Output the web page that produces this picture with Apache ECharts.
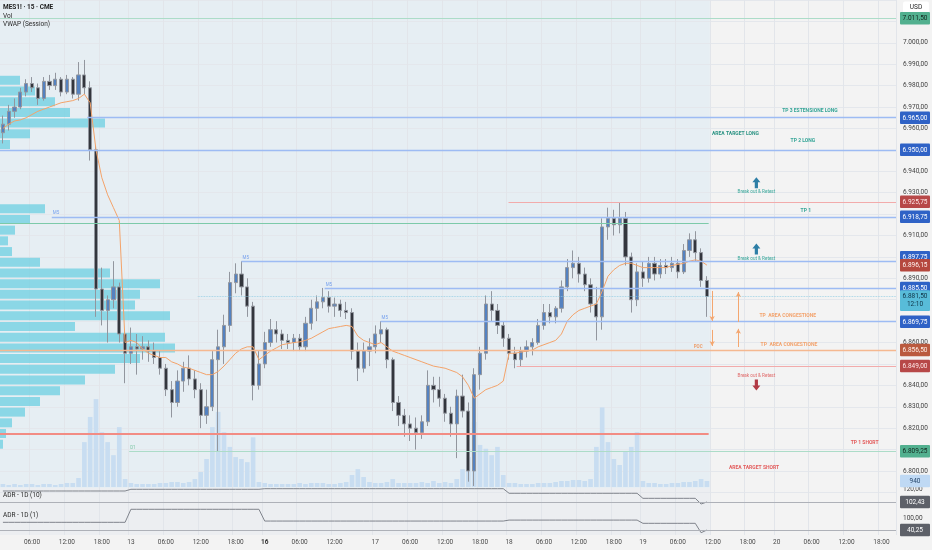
<!DOCTYPE html>
<html><head><meta charset="utf-8">
<script src="https://cdn.jsdelivr.net/npm/echarts@6/dist/echarts.min.js"></script>
<style>html,body{margin:0;padding:0;background:#f3f3f3}#c{width:932px;height:550px}</style>
</head><body><div id="c"></div>
<script>
// ---------- axis structure (Rome time, hourly bars, CME session) ----------
const sessions = [
  ['2026-03-12', 1, 21], ['2026-03-12', 23, 23], ['2026-03-13', 0, 21],
  ['2026-03-15', 23, 23], ['2026-03-16', 0, 15], ['2026-03-16', 20, 21],
  ['2026-03-16', 23, 23], ['2026-03-17', 0, 21], ['2026-03-17', 23, 23], ['2026-03-18', 0, 21],
  ['2026-03-18', 23, 23], ['2026-03-19', 0, 21], ['2026-03-19', 23, 23], ['2026-03-20', 0, 20]
];
const axisHours = ['00:00', '06:00', '12:00', '18:00'];
const boldDays = ['16'];
const categories = [];
sessions.forEach(([d, h0, h1]) => { for (let h = h0; h <= h1; h++) categories.push(d + ' ' + String(h).padStart(2, '0') + ':00'); });

// ---------- MES1! hourly OHLC ----------
const priceOpen = [
 6958,6962,6968,6970,6977,6981,6979,6974,6982,6980,
 6983,6977,6983,6976,6985,6979,6950,6885,6875,6880,
 6886,6864,6855,6858,6857,6858,6856,6853,6848,6838,
 6832,6842,6848,6843,6838,6826,6830,6852,6858,6868,
 6888,6892,6886,6877,6840,6850,6860,6866,6864,6861,
 6860,6862,6858,6869,6876,6879,6881,6877,6878,6875,
 6874,6856,6848,6856,6858,6864,6866,6852,6832,6826,
 6822,6820,6818,6823,6840,6838,6834,6827,6822,6835,
 6828,6800,6845,6855,6878,6875,6868,6862,6855,6852,
 6856,6858,6860,6868,6874,6872,6876,6886,6895,6897,
 6892,6887,6878,6872,6914,6918,6915,6918,6900,6880,
 6893,6890,6897,6892,6896,6895,6897,6893,6903,6908,
 6902,6889];
const priceHigh = [
 6966,6971,6974,6979,6983,6984,6981,6984,6985,6986,
 6984,6985,6984,6991,6992,6982,6952,6895,6882,6898,
 6888,6866,6867,6864,6863,6861,6860,6856,6850,6842,
 6847,6851,6854,6847,6841,6838,6856,6866,6873,6893,
 6897,6898,6890,6879,6856,6865,6871,6870,6866,6864,
 6864,6864,6872,6880,6882,6885.5,6884,6881,6880,6879,
 6876,6860,6860,6862,6868,6870,6867,6853,6835,6829,
 6826,6825,6826,6847,6844,6844,6836,6830,6838,6845,
 6832,6848,6858,6882,6884,6878,6870,6864,6858,6858,
 6861,6862,6871,6878,6878,6877,6889,6899,6903,6900,
 6895,6890,6886,6918,6923,6922,6925.5,6921,6902,6897,
 6898,6900,6900,6899,6899,6900,6899,6906,6911,6912,
 6904,6891];
const priceLow = [
 6953,6959,6965,6969,6975,6977,6971,6973,6978,6978,
 6975,6976,6974,6973,6976,6945,6872,6868,6860,6876,
 6860,6841,6850,6845,6852,6851,6850,6845,6835,6825,
 6830,6837,6840,6834,6820,6822,6828,6809,6850,6865,
 6883,6882,6872,6833,6838,6848,6858,6860,6857,6857,
 6856,6856,6856,6866,6870,6876,6874,6872,6872,6871,
 6852,6842,6846,6849,6855,6860,6848,6828,6821,6816,
 6814,6810,6815,6821,6832,6830,6823,6816,6806,6825,
 6795,6793,6838,6852,6870,6864,6858,6852,6848,6849,
 6853,6854,6859,6866,6869,6869,6874,6884,6890,6888,
 6884,6874,6861,6866,6908,6910,6911,6896,6874,6877,
 6886,6888,6889,6890,6892,6893,6890,6892,6900,6898,
 6886,6872];
const priceClose = [
 6962,6968,6970,6977,6981,6979,6974,6982,6980,6983,
 6977,6983,6976,6985,6979,6950,6885,6875,6880,6886,
 6864,6855,6858,6857,6858,6856,6853,6848,6838,6832,
 6842,6848,6843,6838,6826,6830,6852,6858,6868,6888,
 6892,6886,6877,6840,6850,6860,6866,6864,6861,6860,
 6862,6858,6869,6876,6879,6881,6877,6878,6875,6874,
 6856,6848,6856,6858,6864,6866,6852,6832,6826,6822,
 6820,6818,6823,6840,6838,6834,6827,6822,6835,6828,
 6800,6845,6855,6878,6875,6868,6862,6855,6852,6856,
 6858,6860,6868,6874,6872,6876,6886,6895,6897,6892,
 6887,6878,6872,6914,6918,6915,6918,6900,6880,6893,
 6890,6897,6892,6896,6895,6897,6893,6903,6908,6902,
 6889,6881.5];
const countdown = '12:10';

// ---------- VWAP (Session) ----------
const vwap = [
 6960,6962,6963.5,6964,6965,6966.5,6968,6969,6970,6971,6972,6972.5,6973,6974,6976,6972,6950,6937,6929,6923,6917,
 6860,6861,6860,6857,6855,6854,6853,6853,6851,6850,6848.5,6848,6847,6846,6845,6845,6846.5,6849,6852,6855,6857,6858,6858,
 6852,6854,6856,6857.5,6859,6859.5,6860,6860.3,6861,6862,6863.5,6865,6866.5,6867,6867.5,6868,6867.5,6863,6861,
 6860,6859,6860,6858,6856,6855,6854,6853,6852,6851,6850,6849,6848.5,6848,6847,6846,6844,6840,6834,6836,6838,6839,6840,
 6842,6855,6855,6855.5,6856,6856.5,6858,6859,6860,6861,6864,6870,6873,6875,6876,6877,6878,6884,6891,6894,6896,6897,6897,
 6896,6895,6895,6895,6895,6895,6896,6896.5,6897,6898,6898.6,6898,6896.15];

// ---------- Volume ----------
const volume = [
 470,310,470,310,470,470,310,470,470,310,470,630,630,
 1410,7050,11000,13800,8600,7050,5000,9400,1250,
 630,470,470,470,470,630,630,780,780,630,780,1250,
 2350,4400,9400,11800,8600,6300,4700,4400,3900,7800,
 780,
 630,470,470,470,470,470,630,470,630,630,630,470,470,630,780,
 1880,2800,1570,780,
 630,630,780,1250,630,630,630,630,780,630,940,630,780,630,
 1250,2800,4700,10200,6600,6000,5000,6300,1880,
 630,630,470,470,470,630,630,630,780,
 940,940,1100,1100,940,1250,
 6300,12500,7050,4400,3450,5500,6300,8600,
 940,
 630,630,470,470,630,630,780,780,940,
 1250,940];

// ---------- Volume profile (5-point price rows) ----------
const profileRows = [];
for (let p = 6790; p < 7020; p += 5) profileRows.push(String(p));
const profileVolume = [
 0,0,0,0,3, 6,12,25,40,60, 85,115,140,175,165, 75,170,135,140,160,
 110,40,12,8,15, 30,45,0,0,0, 0,0,10,30,105, 70,55,35,20,0,
 0,0,0,0,0,0];

// ---------- ADR indicators (daily values, first bar of each day) ----------
const adrDayStartBar = [0, 22, 45, 87, 110, 120, 121];
const adr10Daily = [117.3, 119.6, 120.4, 114.2, 107.4, 99.7, 102.43];
const adr1Daily = [79.6, 146, 86, 91, 74.5, 26.5, 40.25];

// ---------- drawn levels (price, first bar, last bar) ----------
const levels = [
  {price: 7011.50, from: 0, kind: 'green', tag: 'green'},
  {price: 6965.00, from: 15, kind: 'blue', tag: 'blue'},
  {price: 6950.00, from: 0, kind: 'blue', tag: 'blue'},
  {price: 6925.75, from: 87.4, kind: 'red', tag: 'red'},
  {price: 6918.75, from: 8.9, kind: 'blue', tag: 'blue', mark: 'M5'},
  {price: 6915.50, from: 0, to: 121.8, kind: 'green2'},
  {price: 6897.75, from: 41.5, kind: 'blue', tag: 'blue', mark: 'M5', shift: 'up'},
  {price: 6885.50, from: 55.8, kind: 'blue', tag: 'blue', mark: 'M5'},
  {price: 6881.50, from: 34, kind: 'last'},
  {price: 6869.75, from: 65.4, kind: 'blue', tag: 'blue', mark: 'M5'},
  {price: 6856.50, from: 0, kind: 'poc', tag: 'poc'},
  {price: 6849.00, from: 88.8, kind: 'red', tag: 'red'},
  {price: 6817.50, from: 0, to: 121.8, kind: 'redStrong'},
  {price: 6809.25, from: 22.2, kind: 'green', tag: 'green', mark: 'D1'}
];
const annotations = [
  {text: 'TP 3 ESTENSIONE LONG', at: 139.2, price: 6968.2, kind: 'long'},
  {text: 'AREA TARGET LONG', at: 126.4, price: 6957.5, kind: 'longDark'},
  {text: 'TP 2 LONG', at: 138, price: 6954.2, kind: 'long'},
  {text: 'Break out & Retest', at: 130, price: 6930.6, kind: 'longNote'},
  {text: 'TP 1', at: 138.5, price: 6921.5, kind: 'long'},
  {text: 'Break out & Retest', at: 130, price: 6899.3, kind: 'longNote'},
  {text: 'TP  AREA CONGESTIONE', at: 135.4, price: 6872.4, kind: 'range'},
  {text: 'TP  AREA CONGESTIONE', at: 135.6, price: 6859.1, kind: 'range'},
  {text: 'POC', at: 120, price: 6858.2, kind: 'poc'},
  {text: 'Break out & Retest', at: 130, price: 6844.6, kind: 'shortNote'},
  {text: 'TP 1 SHORT', at: 148.6, price: 6813, kind: 'short'},
  {text: 'AREA TARGET SHORT', at: 129.6, price: 6801.4, kind: 'short'}
];
const blockArrows = [
  {at: 130, price: 6934.6, dir: 'up'},
  {at: 130, price: 6903.7, dir: 'up'},
  {at: 130, price: 6840.2, dir: 'down'}
];
const lineArrows = [
  {at: 122.4, from: 6884.1, to: 6870.1},
  {at: 126.9, from: 6869.6, to: 6883.6},
  {at: 122.4, from: 6865.9, to: 6858.4},
  {at: 126.9, from: 6857.9, to: 6866.4}
];

// ---------- styles ----------
const FONT = 'Roboto';
const lineStyles = {
  green: {color: '#acdcc8', width: 1.2, type: 'solid'},
  blue: {color: '#9dbbf3', width: 1.3, type: 'solid'},
  red: {color: '#f2abab', width: 1, type: 'solid'},
  green2: {color: '#7ccaa9', width: 1.2, type: 'solid'},
  last: {color: '#8fcbe2', width: 0.8, type: 'dotted'},
  poc: {color: '#f5b890', width: 1.3, type: 'solid'},
  redStrong: {color: '#f28c84', width: 2, type: 'solid'}
};
const tagStyles = {
  green: {bg: '#52b08f', fg: '#13261e'},
  blue: {bg: '#2f62c6', fg: '#ffffff'},
  red: {bg: '#b74848', fg: '#ffe8e8'},
  poc: {bg: '#ba5a3e', fg: '#fff0e8'},
  vwap: {bg: '#b5483e', fg: '#fff4f0'},
  last: {bg: '#58bcd9', fg: '#0f3346'}
};
const textStyles = {
  long: {color: '#35a597', fontSize: 5, fontWeight: 'bold'},
  longDark: {color: '#2b9383', fontSize: 5, fontWeight: 'bold'},
  longNote: {color: '#3aa89b', fontSize: 4.6, fontWeight: 'normal'},
  range: {color: '#f3a36d', fontSize: 5, fontWeight: 'bold'},
  poc: {color: '#ee9f6d', fontSize: 4.5, fontWeight: 'bold'},
  shortNote: {color: '#e06969', fontSize: 4.6, fontWeight: 'normal'},
  short: {color: '#e35d5d', fontSize: 5, fontWeight: 'bold'}
};
const arrowPaths = {
  up: 'path://M5 0 L10 5 L7 5 L7 11 L3 11 L3 5 L0 5 Z',
  down: 'path://M3 0 L7 0 L7 6 L10 6 L5 11 L0 6 L3 6 Z'
};
const arrowColors = {up: '#2d7ea6', down: '#b23a45'};

// ---------- helpers ----------
const fmt = v => {
  const s = Math.abs(v).toFixed(2).split('.');
  return (v < 0 ? '-' : '') + s[0].replace(/\B(?=(\d{3})+(?!\d))/g, '.') + ',' + s[1];
};
const candles = priceOpen.map((o, i) => [o, priceClose[i], priceLow[i], priceHigh[i]]);
const dailyToBars = (vals) => priceClose.map((_, i) => {
  let k = 0;
  for (let j = 0; j < adrDayStartBar.length; j++) if (i >= adrDayStartBar[j]) k = j;
  return vals[k];
});
const adr10 = dailyToBars(adr10Daily);
const adr1 = dailyToBars(adr1Daily);
const nBars = categories.length;
const lastClose = priceClose[priceClose.length - 1];
const lastVwap = vwap[vwap.length - 1];
const lastVol = volume[volume.length - 1];

const showHour = (i, v) => axisHours.indexOf(v.split(' ')[1]) >= 0;
const xLabel = v => {
  const [d, t] = v.split(' ');
  if (t === '00:00') { const day = String(+d.slice(8)); return boldDays.indexOf(day) >= 0 ? '{b|' + day + '}' : day; }
  return t;
};

const HIDDEN_LINE = {color: 'rgba(0,0,0,0)', width: 1, type: 'solid', opacity: 1};
function tagItem(price, text, st, shift, extraLine, lineStyle) {
  const seg = {backgroundColor: st.bg, color: st.fg, padding: [2, 2, 1.5, 2], borderRadius: 1,
               fontSize: 6.5, fontFamily: FONT, width: 26, align: 'center', lineHeight: 9, height: 9};
  let formatter, rich;
  if (extraLine) {
    formatter = '{e| }\n{a|' + text + '}\n{b|' + extraLine + '}';
    rich = {a: seg, b: Object.assign({}, seg, {padding: [0, 2, 2, 2]}), e: {lineHeight: 9, height: 9, fontSize: 6.5}};
  } else if (shift === 'up') {
    formatter = '{a|' + text + '}\n{e| }';
    rich = {a: seg, e: {lineHeight: 9, height: 9, fontSize: 6.5}};
  } else {
    formatter = '{a|' + text + '}';
    rich = {a: seg};
  }
  return {yAxis: price, lineStyle: lineStyle || HIDDEN_LINE,
          label: {show: true, position: 'end', distance: 4, opacity: 1, formatter: formatter, rich: rich}};
}

const levelLines = [];
levels.forEach(l => {
  levelLines.push([
    {coord: [l.from, l.price], lineStyle: lineStyles[l.kind],
     label: l.mark ? {show: true, position: 'insideStartTop', formatter: l.mark, distance: 1,
       color: l.kind === 'green' ? '#7cc6a4' : '#78a2ee', fontSize: 4.5, fontFamily: FONT} : {show: false}},
    {coord: [l.to != null ? l.to : nBars, l.price]}
  ]);
  if (l.tag) levelLines.push(tagItem(l.price, fmt(l.price), tagStyles[l.tag], l.shift));
});
levelLines.push(tagItem(lastVwap, fmt(lastVwap), tagStyles.vwap));
levelLines.push(tagItem(lastClose, fmt(lastClose), tagStyles.last, null, countdown));
lineArrows.forEach(a => {
  levelLines.push([
    {coord: [a.at, a.from], symbol: 'none', lineStyle: {color: '#f4a66f', width: 1, type: 'solid'}, label: {show: false}},
    {coord: [a.at, a.to], symbol: 'arrow', symbolSize: [4, 5]}
  ]);
});

const markPoints = annotations.map(a => ({
  name: a.text, coord: [a.at, a.price], symbol: 'rect', symbolSize: 1,
  itemStyle: {color: 'rgba(0,0,0,0)'},
  label: Object.assign({show: true, position: 'inside', formatter: '{b}', fontFamily: FONT}, textStyles[a.kind])
})).concat(blockArrows.map(b => ({
  name: '', coord: [b.at, b.price], symbol: arrowPaths[b.dir], symbolSize: [8, 11],
  itemStyle: {color: arrowColors[b.dir]}, label: {show: false}
})));

const gridBase = {left: 0, right: 36, outerBoundsMode: 'none', containLabel: false};
const splitX = {show: true, interval: showHour, lineStyle: {color: '#e2e5ea', width: 1}};
const catAxis = (grid, extra) => Object.assign({
  type: 'category', gridIndex: grid, data: categories, boundaryGap: true,
  axisLine: {show: false}, axisTick: {show: false}, axisLabel: {show: false}, splitLine: {show: false}, z: 2
}, extra || {});
const helperX = (grid) => ({type: 'value', gridIndex: grid, min: 0, max: nBars, show: false, position: 'top'});

const chart = echarts.init(document.getElementById('c'), null, {renderer: 'canvas'});
chart.setOption({
  animation: false,
  backgroundColor: '#f3f3f3',
  textStyle: {fontFamily: FONT},
  grid: [
    Object.assign({top: 0, height: 492.4}, gridBase),
    Object.assign({top: 370, height: 117}, gridBase),
    {left: 0, top: 0, height: 492.4, width: 300, outerBoundsMode: 'none', containLabel: false},
    Object.assign({top: 488, height: 20}, gridBase),
    Object.assign({top: 508, height: 27}, gridBase)
  ],
  xAxis: [
    catAxis(0, {splitLine: splitX}),
    helperX(0),
    catAxis(1),
    {type: 'value', gridIndex: 2, min: 0, max: 300, show: false},
    catAxis(3, {splitLine: splitX}),
    helperX(3),
    catAxis(4, {splitLine: splitX, axisLabel: {show: true, interval: showHour, formatter: xLabel, margin: 4,
      fontSize: 6.5, color: '#4a4a4a', fontFamily: FONT, hideOverlap: false, rich: {b: {fontWeight: 'bold', fontSize: 6.5, color: '#333'}}}}),
    helperX(4)
  ],
  yAxis: [
    {type: 'value', gridIndex: 0, position: 'right', min: 6790, max: 7020, interval: 10, z: 2,
     axisLine: {show: false}, axisTick: {show: false},
     splitLine: {show: true, lineStyle: {color: '#e4e7ec', width: 1}},
     axisLabel: {formatter: fmt, fontSize: 6.5, color: '#3f3f3f', margin: 7, fontFamily: FONT, showMinLabel: false, showMaxLabel: false}},
    {type: 'value', gridIndex: 1, min: 0, max: 18370, show: false},
    {type: 'category', gridIndex: 2, data: profileRows, show: false, boundaryGap: true},
    {type: 'value', gridIndex: 3, position: 'right', min: 94.3, max: 121.35, z: 2,
     axisLine: {show: false}, axisTick: {show: false}, splitLine: {show: false},
     axisLabel: {customValues: [120], formatter: fmt, fontSize: 6.5, color: '#3f3f3f', margin: 7, fontFamily: FONT}},
    {type: 'value', gridIndex: 4, position: 'right', min: 14.9, max: 152.6, z: 2,
     axisLine: {show: false}, axisTick: {show: false}, splitLine: {show: false},
     axisLabel: {customValues: [100], formatter: fmt, fontSize: 6.5, color: '#3f3f3f', margin: 7, fontFamily: FONT}}
  ],
  graphic: [
    {type: 'text', left: 3, top: 4, z: 20, style: {text: 'MES1! · 15 · CME', font: 'bold 6.5px Roboto', fill: '#1e1e1e'}},
    {type: 'text', left: 3, top: 12.5, z: 20, style: {text: 'Vol', font: '6.5px Roboto', fill: '#2a2a2a'}},
    {type: 'text', left: 3, top: 21, z: 20, style: {text: 'VWAP (Session)', font: '6.5px Roboto', fill: '#2a2a2a'}},
    {type: 'text', left: 3, top: 492, z: 20, style: {text: 'ADR - 1D (10)', font: '6.5px Roboto', fill: '#2a2a2a'}},
    {type: 'text', left: 3, top: 511.5, z: 20, style: {text: 'ADR - 1D (1)', font: '6.5px Roboto', fill: '#2a2a2a'}},
    {type: 'group', left: 903, top: 1.5, z: 20, children: [
      {type: 'rect', shape: {x: 0, y: 0, width: 26, height: 12, r: 2}, style: {fill: '#ffffff'}},
      {type: 'text', style: {text: 'USD', x: 13, y: 6, align: 'center', verticalAlign: 'middle', font: '6.5px Roboto', fill: '#222'}}
    ]}
  ],
  series: [
    {type: 'line', name: 'tint', xAxisIndex: 1, yAxisIndex: 0, data: [], silent: true,
     markArea: {silent: true, z: 0, itemStyle: {color: '#e6eef3'}, data: [[{xAxis: 0}, {xAxis: priceClose.length}]]}},
    {type: 'line', name: 'tintAdr10', xAxisIndex: 5, yAxisIndex: 3, data: [], silent: true,
     markArea: {silent: true, z: 0, itemStyle: {color: '#eceef1'}, data: [[{xAxis: 0}, {xAxis: priceClose.length}]]}},
    {type: 'line', name: 'tintAdr1', xAxisIndex: 7, yAxisIndex: 4, data: [], silent: true,
     markArea: {silent: true, z: 0, itemStyle: {color: '#eceef1'}, data: [[{xAxis: 0}, {xAxis: priceClose.length}]]}},
    {type: 'bar', name: 'profile', xAxisIndex: 3, yAxisIndex: 2, data: profileVolume, z: 2, silent: true,
     barCategoryGap: '16%', itemStyle: {color: '#6ccfe2', opacity: 0.75}},
    {type: 'bar', name: 'Vol', xAxisIndex: 2, yAxisIndex: 1, data: volume, z: 2, silent: true, clip: false,
     barWidth: '80%', itemStyle: {color: '#c8ddf1'},
     markLine: {silent: true, symbol: ['none', 'none'], data: [tagItem(lastVol, String(lastVol), {bg: '#bfd9f4', fg: '#26466a'})]}},
    {type: 'candlestick', name: 'MES1!', xAxisIndex: 0, yAxisIndex: 0, data: candles, z: 3, barWidth: '62%', silent: true,
     itemStyle: {color: '#5482c0', color0: '#33363d', borderColor: '#92969e', borderColor0: '#92969e', borderWidth: 1}},
    {type: 'line', name: 'VWAP', xAxisIndex: 0, yAxisIndex: 0, data: vwap, z: 4, symbol: 'none', silent: true,
     lineStyle: {color: '#f4a36a', width: 1}},
    {type: 'line', name: 'levels', xAxisIndex: 1, yAxisIndex: 0, data: [], clip: false, silent: true,
     markLine: {silent: true, symbol: ['none', 'none'], animation: false, data: levelLines},
     markPoint: {silent: true, animation: false, data: markPoints}},
    {type: 'line', name: 'ADR10', xAxisIndex: 4, yAxisIndex: 3, data: adr10, symbol: 'none', clip: false, silent: true,
     lineStyle: {color: '#80848c', width: 1},
     markLine: {silent: true, symbol: ['none', 'none'], data: [
       tagItem(adr10[adr10.length - 1], fmt(adr10[adr10.length - 1]), {bg: '#5d6068', fg: '#ffffff'}, null, null, {color: '#aeb1b8', width: 1, type: 'solid'})]}},
    {type: 'line', name: 'ADR1', xAxisIndex: 6, yAxisIndex: 4, data: adr1, symbol: 'none', clip: false, silent: true,
     lineStyle: {color: '#80848c', width: 1},
     markLine: {silent: true, symbol: ['none', 'none'], data: [
       tagItem(adr1[adr1.length - 1], fmt(adr1[adr1.length - 1]), {bg: '#5d6068', fg: '#ffffff'}, null, null, {color: '#aeb1b8', width: 1, type: 'solid'})]}}
  ]
});
</script>
</body></html>
